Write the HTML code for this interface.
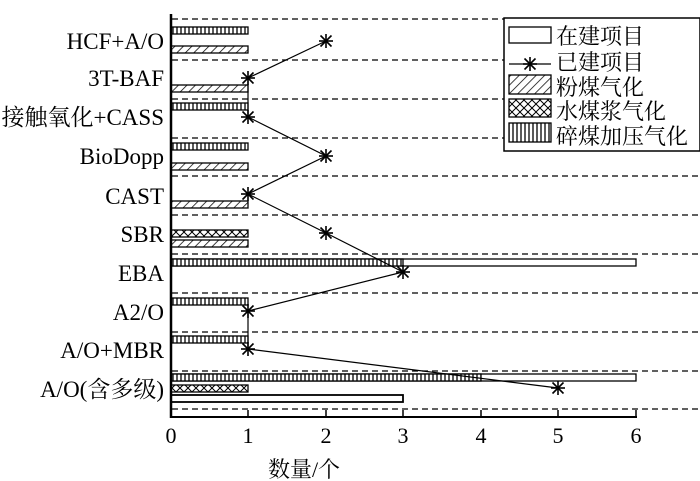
<!DOCTYPE html>
<html><head><meta charset="utf-8"><style>body{margin:0;background:#fff}svg{display:block}</style></head><body>
<svg width="700" height="481" xmlns="http://www.w3.org/2000/svg" font-family="'Liberation Serif','Noto Serif CJK SC',serif">
<defs>
<pattern id="vs" width="4" height="10" patternUnits="userSpaceOnUse"><rect width="4" height="10" fill="#fff"/><line x1="1" y1="0" x2="1" y2="10" stroke="#000" stroke-width="1.3"/></pattern>
<pattern id="hs" width="6" height="6" patternUnits="userSpaceOnUse" patternTransform="rotate(45)"><rect width="6" height="6" fill="#fff"/><line x1="0" y1="0" x2="0" y2="6" stroke="#000" stroke-width="1.5"/></pattern>
<pattern id="xs" width="8" height="8" patternUnits="userSpaceOnUse"><rect width="8" height="8" fill="#fff"/><path d="M0 0L8 8M8 0L0 8" stroke="#000" stroke-width="1"/></pattern>
<g id="st" stroke="#000" stroke-width="1.6"><line x1="-7" y1="0" x2="7" y2="0"/><line x1="0" y1="-7" x2="0" y2="7"/><line x1="-5.5" y1="-5.5" x2="5.5" y2="5.5"/><line x1="-5.5" y1="5.5" x2="5.5" y2="-5.5"/></g>
</defs>
<g stroke="#000" stroke-width="1.3" stroke-dasharray="6,4">
<line x1="172" y1="19" x2="700" y2="19"/><line x1="172" y1="60" x2="700" y2="60"/><line x1="172" y1="99" x2="700" y2="99"/><line x1="172" y1="138" x2="700" y2="138"/><line x1="172" y1="176" x2="700" y2="176"/><line x1="172" y1="215" x2="700" y2="215"/><line x1="172" y1="254" x2="700" y2="254"/><line x1="172" y1="293" x2="700" y2="293"/><line x1="172" y1="332" x2="700" y2="332"/><line x1="172" y1="371" x2="700" y2="371"/><line x1="172" y1="409" x2="700" y2="409"/>
</g>
<g stroke="#000" stroke-width="1.3">
<rect x="171" y="27" width="77" height="7" fill="url(#vs)"/>
<rect x="171" y="46" width="77" height="7" fill="url(#hs)"/>
<rect x="171" y="85" width="77" height="7" fill="url(#hs)"/>
<rect x="171" y="103" width="77" height="7" fill="url(#vs)"/>
<rect x="171" y="143" width="77" height="7" fill="url(#vs)"/>
<rect x="171" y="163" width="77" height="7" fill="url(#hs)"/>
<rect x="171" y="201" width="77" height="7" fill="url(#hs)"/>
<rect x="171" y="230" width="77" height="7" fill="url(#xs)"/>
<rect x="171" y="240" width="77" height="7" fill="url(#hs)"/>
<rect x="171" y="259" width="465" height="7" fill="#fff"/>
<rect x="171" y="259" width="232" height="7" fill="url(#vs)"/>
<rect x="171" y="298" width="77" height="7" fill="url(#vs)"/>
<rect x="171" y="336" width="77" height="7" fill="url(#vs)"/>
<rect x="171" y="374" width="465" height="7" fill="#fff"/>
<rect x="171" y="374" width="310" height="7" fill="url(#vs)"/>
<rect x="171" y="385" width="77" height="7" fill="url(#xs)"/>
<rect x="171" y="395" width="232" height="7" fill="#fff" stroke-width="1.8"/>
</g>
<polyline points="326,41 248,78 248,117 326,156 248,194 326,233 403,272 248,311 248,349 558,388" fill="none" stroke="#000" stroke-width="1.2"/>
<use href="#st" x="326" y="41"/><use href="#st" x="248" y="78"/><use href="#st" x="248" y="117"/><use href="#st" x="326" y="156"/><use href="#st" x="248" y="194"/><use href="#st" x="326" y="233"/><use href="#st" x="403" y="272"/><use href="#st" x="248" y="311"/><use href="#st" x="248" y="349"/><use href="#st" x="558" y="388"/>
<line x1="171" y1="14" x2="171" y2="418" stroke="#000" stroke-width="2.5"/>
<line x1="170" y1="417" x2="637" y2="417" stroke="#000" stroke-width="2"/>
<g stroke="#000" stroke-width="1.5"><line x1="248" y1="410" x2="248" y2="417"/><line x1="326" y1="410" x2="326" y2="417"/><line x1="403" y1="410" x2="403" y2="417"/><line x1="481" y1="410" x2="481" y2="417"/><line x1="558" y1="410" x2="558" y2="417"/><line x1="636" y1="410" x2="636" y2="417"/></g>
<g font-size="22" text-anchor="middle">
<text x="171" y="443">0</text><text x="248" y="443">1</text><text x="326" y="443">2</text><text x="403" y="443">3</text><text x="481" y="443">4</text><text x="558" y="443">5</text><text x="636" y="443">6</text>
<text x="304" y="477">数量/个</text>
</g>
<g font-size="23" text-anchor="end">
<text x="164" y="49">HCF+A/O</text><text x="164" y="86">3T-BAF</text><text x="164" y="125">接触氧化+CASS</text><text x="164" y="164">BioDopp</text><text x="164" y="204">CAST</text><text x="164" y="242">SBR</text><text x="164" y="281">EBA</text><text x="164" y="320">A2/O</text><text x="164" y="358">A/O+MBR</text><text x="164" y="397">A/O(含多级)</text>
</g>
<rect x="504" y="18" width="196" height="133" fill="#fff" stroke="#000" stroke-width="1.5"/>
<g stroke="#000" stroke-width="1.3">
<rect x="509" y="27" width="42" height="16" fill="#fff"/>
<line x1="509" y1="64" x2="551" y2="64"/>
<rect x="509" y="75" width="42" height="19" fill="url(#hs)"/>
<rect x="509" y="99" width="42" height="18" fill="url(#xs)"/>
<rect x="509" y="123" width="42" height="19" fill="url(#vs)"/>
</g>
<use href="#st" x="530" y="64"/>
<g font-size="22">
<text x="556" y="44">在建项目</text><text x="556" y="70">已建项目</text><text x="556" y="95">粉煤气化</text><text x="556" y="119">水煤浆气化</text><text x="556" y="144">碎煤加压气化</text>
</g>
</svg>
</body></html>
